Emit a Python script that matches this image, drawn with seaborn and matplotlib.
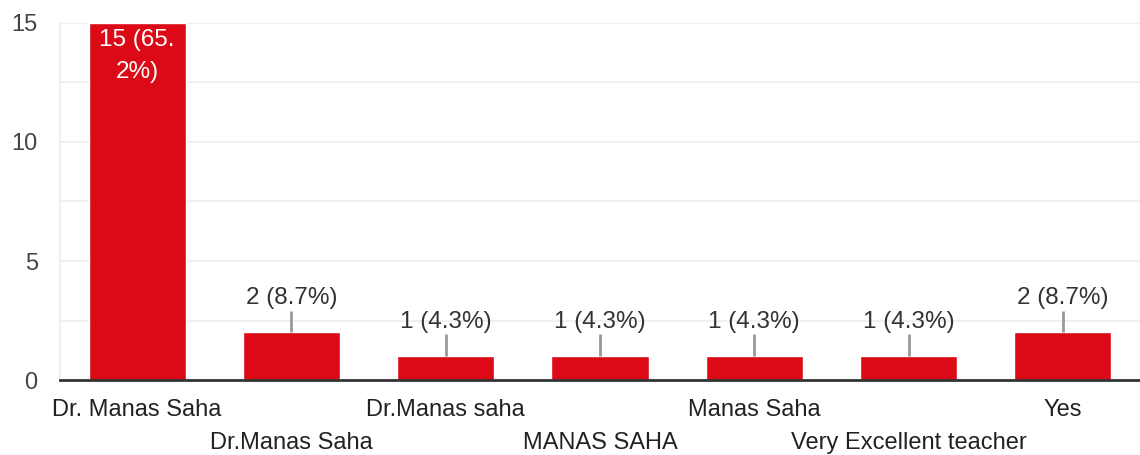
import matplotlib
matplotlib.use("Agg")
import matplotlib.pyplot as plt
import seaborn as sns
import pandas as pd
from matplotlib.ticker import MultipleLocator

# answers and counts
answers = ["Dr. Manas Saha", "Dr.Manas Saha", "Dr.Manas saha", "MANAS SAHA",
           "Manas Saha", "Very Excellent teacher", "Yes"]
counts = [15, 2, 1, 1, 1, 1, 2]
percent_labels = ["15 (65.\n2%)", "2 (8.7%)", "1 (4.3%)", "1 (4.3%)",
                  "1 (4.3%)", "1 (4.3%)", "2 (8.7%)"]
y_ticks = [0, 5, 10, 15]

df = pd.DataFrame({"answer": answers, "count": counts})

sns.set_theme(style="white")
plt.rcParams["font.family"] = ["Liberation Sans", "DejaVu Sans"]

fig = plt.figure(figsize=(11.4, 4.55), dpi=100)
ax = fig.add_axes([0.0526, 0.1648, 0.9474, 0.7847])

bar_red = "#dc0a17"
fs = 17
sns.barplot(data=df, x="answer", y="count", color=bar_red, saturation=1,
            width=0.63, ax=ax, zorder=3)

ax.set_ylim(0, 15)
ax.set_xlim(-0.5, len(answers) - 0.5)
ax.yaxis.set_major_locator(MultipleLocator(5))
ax.yaxis.set_minor_locator(MultipleLocator(2.5))
ax.set_yticks(y_ticks)
ax.grid(axis="y", which="both", color="#f0f0f0", lw=1.5, zorder=0)
ax.set_xlabel("")
ax.set_ylabel("")

for side in ["top", "right"]:
    ax.spines[side].set_visible(False)
ax.spines["left"].set_color("#efefef")
ax.spines["left"].set_linewidth(1.5)
ax.spines["bottom"].set_color("#333333")
ax.spines["bottom"].set_linewidth(2)
ax.spines["bottom"].set_zorder(5)

ax.tick_params(axis="y", length=0, pad=16, labelsize=fs, labelcolor="#444444")
ax.tick_params(axis="x", length=0, pad=14, labelsize=fs, labelcolor="#222222")

# staggered category labels
for i, lab in enumerate(ax.get_xticklabels()):
    if i % 2 == 1:
        lab.set_y(-0.09)

# value labels
top = ax.get_ylim()[1]
for i, (v, txt) in enumerate(zip(counts, percent_labels)):
    if v >= top * 0.5:
        ax.text(i, v - 0.25, txt, ha="center", va="top", color="white",
                fontsize=fs + 0.5, linespacing=1.6, zorder=6)
    else:
        ax.vlines(i, v, v + 0.92, color="#999999", lw=2, zorder=4)
        ax.text(i, v + 0.98, txt, ha="center", va="bottom", color="#333333",
                fontsize=fs + 0.5, zorder=6)

fig.savefig("out.png", dpi=100)
plt.close(fig)
